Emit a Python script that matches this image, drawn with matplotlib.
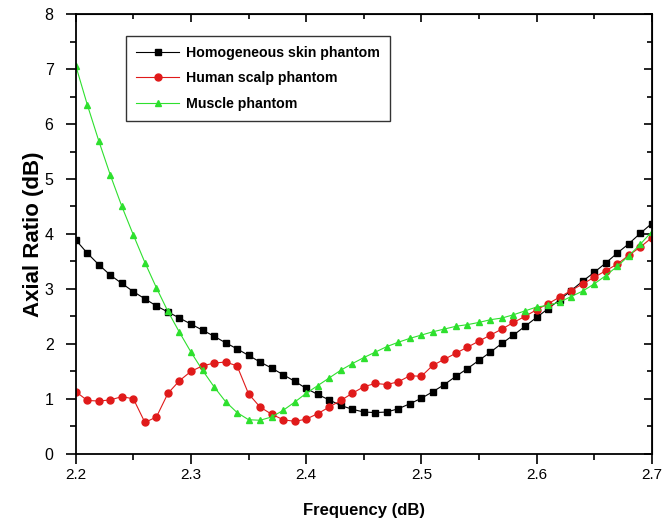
import numpy as np
import matplotlib.pyplot as plt
from matplotlib.ticker import MultipleLocator

plt.rcParams['font.family'] = ['Liberation Sans', 'DejaVu Sans']

# frequency points, 2.20 .. 2.70 step 0.01
freq = np.round(np.arange(2.20, 2.7001, 0.01), 2)

skin = [3.89, 3.65, 3.44, 3.25, 3.10, 2.95, 2.82, 2.69, 2.58, 2.47,
        2.36, 2.25, 2.14, 2.02, 1.91, 1.79, 1.67, 1.56, 1.44, 1.32,
        1.19, 1.08, 0.98, 0.88, 0.81, 0.76, 0.75, 0.76, 0.82, 0.91,
        1.01, 1.13, 1.26, 1.41, 1.55, 1.70, 1.85, 2.01, 2.16, 2.32,
        2.48, 2.64, 2.80, 2.97, 3.14, 3.30, 3.47, 3.65, 3.82, 4.01,
        4.19]

scalp = [1.13, 0.97, 0.96, 0.98, 1.04, 1.00, 0.57, 0.67, 1.10, 1.33,
         1.50, 1.60, 1.65, 1.67, 1.60, 1.09, 0.85, 0.72, 0.62, 0.59,
         0.63, 0.73, 0.85, 0.97, 1.10, 1.22, 1.28, 1.26, 1.31, 1.42,
         1.41, 1.61, 1.72, 1.83, 1.94, 2.05, 2.16, 2.27, 2.39, 2.50,
         2.62, 2.73, 2.85, 2.97, 3.09, 3.21, 3.33, 3.45, 3.61, 3.76,
         3.93]

muscle = [7.06, 6.35, 5.69, 5.07, 4.50, 3.98, 3.48, 3.02, 2.59, 2.21,
          1.85, 1.52, 1.22, 0.95, 0.75, 0.62, 0.61, 0.67, 0.79, 0.94,
          1.10, 1.24, 1.38, 1.52, 1.64, 1.75, 1.85, 1.95, 2.03, 2.10,
          2.16, 2.22, 2.27, 2.32, 2.35, 2.39, 2.44, 2.47, 2.53, 2.60,
          2.67, 2.70, 2.76, 2.86, 2.96, 3.09, 3.24, 3.41, 3.60, 3.81,
          4.04]

labels = ['Homogeneous skin phantom', 'Human scalp phantom', 'Muscle phantom']

fig = plt.figure(figsize=(6.65, 5.24), dpi=100)
ax = fig.add_axes([0.114, 0.134, 0.866, 0.839])

ax.plot(freq, skin, color='black', lw=0.8, marker='s', ms=4.2, label=labels[0])
ax.plot(freq, scalp, color='#e01a1a', lw=0.8, marker='o', ms=5, label=labels[1])
ax.plot(freq, muscle, color='#2ee02e', lw=0.8, marker='^', ms=5, label=labels[2])

ax.set_xlim(2.2, 2.7)
ax.set_ylim(0, 8)
ax.xaxis.set_major_locator(MultipleLocator(0.1))
ax.xaxis.set_minor_locator(MultipleLocator(0.05))
ax.yaxis.set_major_locator(MultipleLocator(1))
ax.yaxis.set_minor_locator(MultipleLocator(0.5))
ax.tick_params(which='both', direction='out', width=1.2)
ax.tick_params(which='major', length=7)
ax.tick_params(which='minor', length=4)
ax.tick_params(axis='x', labelsize=11, pad=3)
ax.tick_params(axis='y', labelsize=11.5, pad=9)
for s in ax.spines.values():
    s.set_linewidth(1.3)

# mirrored ticks pointing inwards on top and right
top = ax.secondary_xaxis('top')
top.xaxis.set_major_locator(MultipleLocator(0.1))
top.xaxis.set_minor_locator(MultipleLocator(0.05))
top.tick_params(which='both', direction='in', labeltop=False, width=1.2)
top.tick_params(which='major', length=6)
top.tick_params(which='minor', length=3.5)
right = ax.secondary_yaxis('right')
right.yaxis.set_major_locator(MultipleLocator(1))
right.yaxis.set_minor_locator(MultipleLocator(0.5))
right.tick_params(which='both', direction='in', labelright=False, width=1.2)
right.tick_params(which='major', length=6)
right.tick_params(which='minor', length=3.5)

ax.set_xlabel('Frequency (dB)', fontsize=12, fontweight='bold', labelpad=15)
ax.set_ylabel('Axial Ratio (dB)', fontsize=16, fontweight='bold', labelpad=0.5)

leg = ax.legend(loc='upper left', bbox_to_anchor=(0.088, 0.95),
                prop={'weight': 'bold', 'size': 10.2}, frameon=True, fancybox=False,
                edgecolor='black', handlelength=3.0, handletextpad=0.5,
                borderpad=0.7, labelspacing=0.8, borderaxespad=0)
leg.get_frame().set_linewidth(1.0)

plt.savefig('out.png', dpi=100)
